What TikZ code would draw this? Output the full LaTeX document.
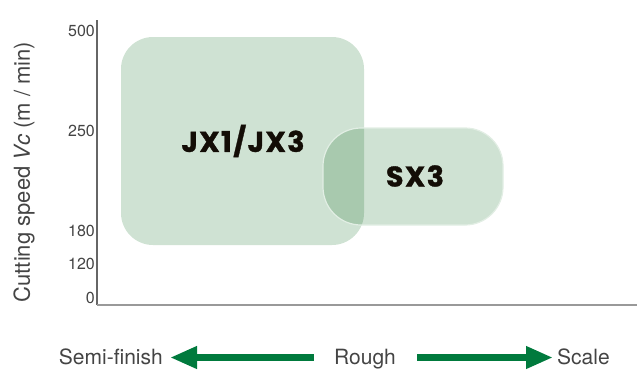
\documentclass[tikz,border=0pt]{standalone}
\usepackage{fontspec}
\usepackage{tikz}
\usetikzlibrary{arrows.meta}
\setmainfont{TeX Gyre Heros}
\newfontfamily\gradefont{Poppins}[BoldFeatures={LetterSpace=5, FakeBold=1.2}]

\definecolor{zonefill}{HTML}{CFE2D3}
\definecolor{zonedark}{HTML}{A8C9AE}
\definecolor{zoneedge}{HTML}{E2EEE4}
\definecolor{arrowgreen}{HTML}{007A3D}
\definecolor{labelgray}{HTML}{444444}

\tikzset{
	tick/.style={anchor=east, inner sep=0pt, text=labelgray, font=\fontsize{16}{17}\selectfont},
	grade/.style={text=black!90!brown, font=\gradefont\bfseries\fontsize{28.5}{30}\selectfont},
	rangelabel/.style={anchor=base, inner sep=0pt, text=labelgray, font=\fontsize{21}{24}\selectfont},
	bigarrow/.style={arrowgreen, line width=7pt, -{Triangle[width=21pt, length=27pt]}}
}

\begin{document}
\begin{tikzpicture}[x=1pt, y=-1pt]
		\useasboundingbox (0,0) rectangle (644,370);
		% application zones
		\fill[zonefill, rounded corners=32pt] (121,37) rectangle (364,245);
		\fill[zonefill, rounded corners=38pt] (323,128) rectangle (503,225);
		\begin{scope}
			\clip[rounded corners=32pt] (121,37) rectangle (364,245);
			\fill[zonedark, rounded corners=38pt] (323,128) rectangle (503,225);
		\end{scope}
		\draw[zoneedge, line width=1.2pt, rounded corners=38pt] (323,128) rectangle (503,225);
		\node[grade] (jx) at (243,141) {JX1/JX3};
		\node[grade] (sx) at (415,176) {SX3};

		% axes
		\coordinate (origin) at (97,305);
		\coordinate (ytop) at (97,20);
		\coordinate (xend) at (637,305);
		\draw[black!60, line width=1.2pt] (ytop) -- (origin);
		\draw[black!40, line width=2pt] (origin) -- (xend);
		\node[tick] (t500) at (95,31) {500};
		\node[tick] (t250) at (95,131) {250};
		\node[tick] (t180) at (95,231) {180};
		\node[tick] (t120) at (95,264) {120};
		\node[tick] (t0) at (95,298) {0};
		\node[rotate=90, text=labelgray, font=\fontsize{22}{24}\selectfont] (ytitle) at (24,172)
			{Cutting speed \textit{Vc} (m / min)};

		% machining range
		\node[rangelabel, anchor=base east] (semi) at (163,364.5) {Semi-finish};
		\node[rangelabel] (rough) at (365,364.5) {Rough};
		\node[rangelabel, anchor=base west] (scale) at (557,364.5) {Scale};
		\draw[bigarrow] ([xshift=-20pt, yshift=7pt]rough.base west) -- ([xshift=7pt, yshift=7pt]semi.base east);
		\draw[bigarrow] ([xshift=21pt, yshift=7pt]rough.base east) -- ([xshift=-4pt, yshift=7pt]scale.base west);
\end{tikzpicture}
\end{document}
